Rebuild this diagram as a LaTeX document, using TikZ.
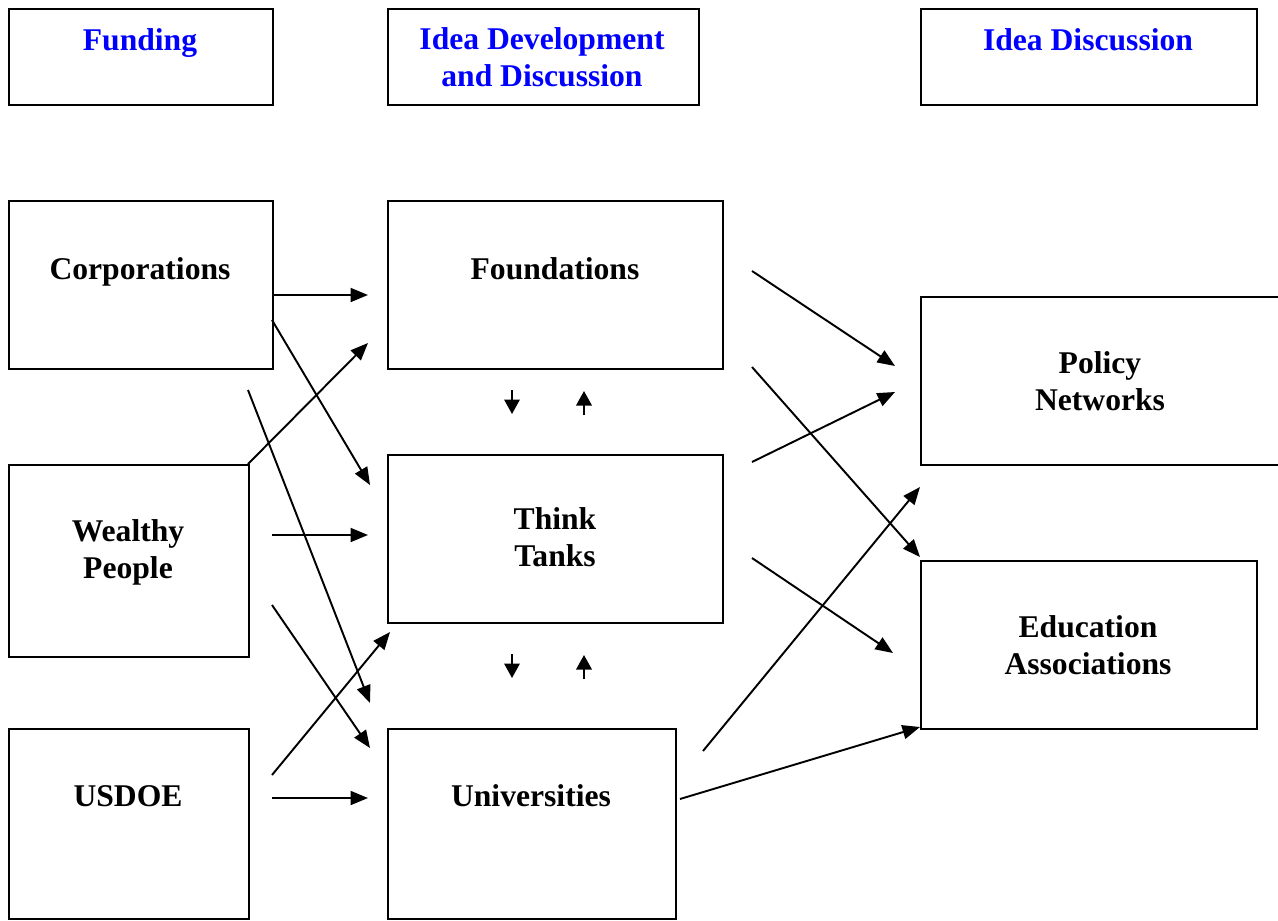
\documentclass[tikz,border=0pt]{standalone}
\usepackage{fontspec}
\setmainfont{Liberation Serif}
\usetikzlibrary{arrows.meta}
\definecolor{ttlblue}{RGB}{0,0,255}
\begin{document}
\begin{tikzpicture}[x=0.02cm,y=-0.02cm,
  box/.style={draw, line width=1.1pt, inner sep=0pt, anchor=north west},
  lbl/.style={font=\fontsize{18}{20.5}\selectfont\bfseries, align=center, anchor=base, inner sep=0pt},
  ttl/.style={lbl, text=ttlblue},
  arr/.style={line width=1.1pt, -{Triangle[length=0.35cm,width=0.28cm]}},
  sarr/.style={line width=1.1pt, -{Triangle[length=0.29cm,width=0.31cm]}}]
\useasboundingbox (0,0) rectangle (1278,920);
\clip (0,0) rectangle (1278,920);
% header boxes
\node[box, minimum width=5.28cm, minimum height=1.92cm] (funding) at (8,8) {};
\node[box, minimum width=6.22cm, minimum height=1.92cm] (ideadev) at (387,8) {};
\node[box, minimum width=6.72cm, minimum height=1.92cm] (ideadisc) at (920,8) {};
\node[ttl] (fundingT) at (140,50) {Funding};
\node[ttl] (ideadevT) at (542,86) {Idea Development\\and Discussion};
\node[ttl] (ideadiscT) at (1088,50) {Idea Discussion};
% boxes
\node[box, minimum width=5.28cm, minimum height=3.36cm] (corp) at (8,200) {};
\node[box, minimum width=6.70cm, minimum height=3.36cm] (found) at (387,200) {};
\node[box, minimum width=8.00cm, minimum height=3.36cm] (policy) at (920,296) {};
\node[box, minimum width=4.80cm, minimum height=3.84cm] (wealthy) at (8,464) {};
\node[box, minimum width=6.70cm, minimum height=3.36cm] (think) at (387,454) {};
\node[box, minimum width=6.72cm, minimum height=3.36cm] (educ) at (920,560) {};
\node[box, minimum width=4.80cm, minimum height=3.80cm] (usdoe) at (8,728) {};
\node[box, minimum width=5.76cm, minimum height=3.80cm] (univ) at (387,728) {};
% labels
\node[lbl] (corpT) at (140,279) {Corporations};
\node[lbl] (foundT) at (555,279) {Foundations};
\node[lbl] (policyT) at (1100,410) {Policy\\Networks};
\node[lbl] (wealthyT) at (128,578) {Wealthy\\People};
\node[lbl] (thinkT) at (555,566) {Think\\Tanks};
\node[lbl] (educT) at (1088,674) {Education\\Associations};
\node[lbl] (usdoeT) at (128,806) {USDOE};
\node[lbl] (univT) at (531,806) {Universities};
% connector end points
\coordinate (a1s) at (272,295); \coordinate (a1e) at (368,295);
\coordinate (a2s) at (272,320); \coordinate (a2e) at (370,485);
\coordinate (a3s) at (248,464); \coordinate (a3e) at (368,343);
\coordinate (a4s) at (248,390); \coordinate (a4e) at (370,703);
\coordinate (a5s) at (272,535); \coordinate (a5e) at (368,535);
\coordinate (a6s) at (272,605); \coordinate (a6e) at (370,748);
\coordinate (a7s) at (272,775); \coordinate (a7e) at (390,632);
\coordinate (a8s) at (272,798); \coordinate (a8e) at (368,798);
\coordinate (b1s) at (752,271); \coordinate (b1e) at (895,366);
\coordinate (b2s) at (752,367); \coordinate (b2e) at (920,557);
\coordinate (b3s) at (752,462); \coordinate (b3e) at (895,392);
\coordinate (b4s) at (752,558); \coordinate (b4e) at (893,653);
\coordinate (b5s) at (703,751); \coordinate (b5e) at (920,487);
\coordinate (b6s) at (680,799); \coordinate (b6e) at (920,727);
\coordinate (s1s) at (512,390); \coordinate (s1e) at (512,414);
\coordinate (s2s) at (584,415); \coordinate (s2e) at (584,391);
\coordinate (s3s) at (512,654); \coordinate (s3e) at (512,678);
\coordinate (s4s) at (584,679); \coordinate (s4e) at (584,655);
% connectors
\foreach \n in {a1,a2,a3,a4,a5,a6,a7,a8,b1,b2,b3,b4,b5,b6}{\draw[arr] (\n s) -- (\n e);}
\foreach \n in {s1,s2,s3,s4}{\draw[sarr] (\n s) -- (\n e);}
\end{tikzpicture}
\end{document}
